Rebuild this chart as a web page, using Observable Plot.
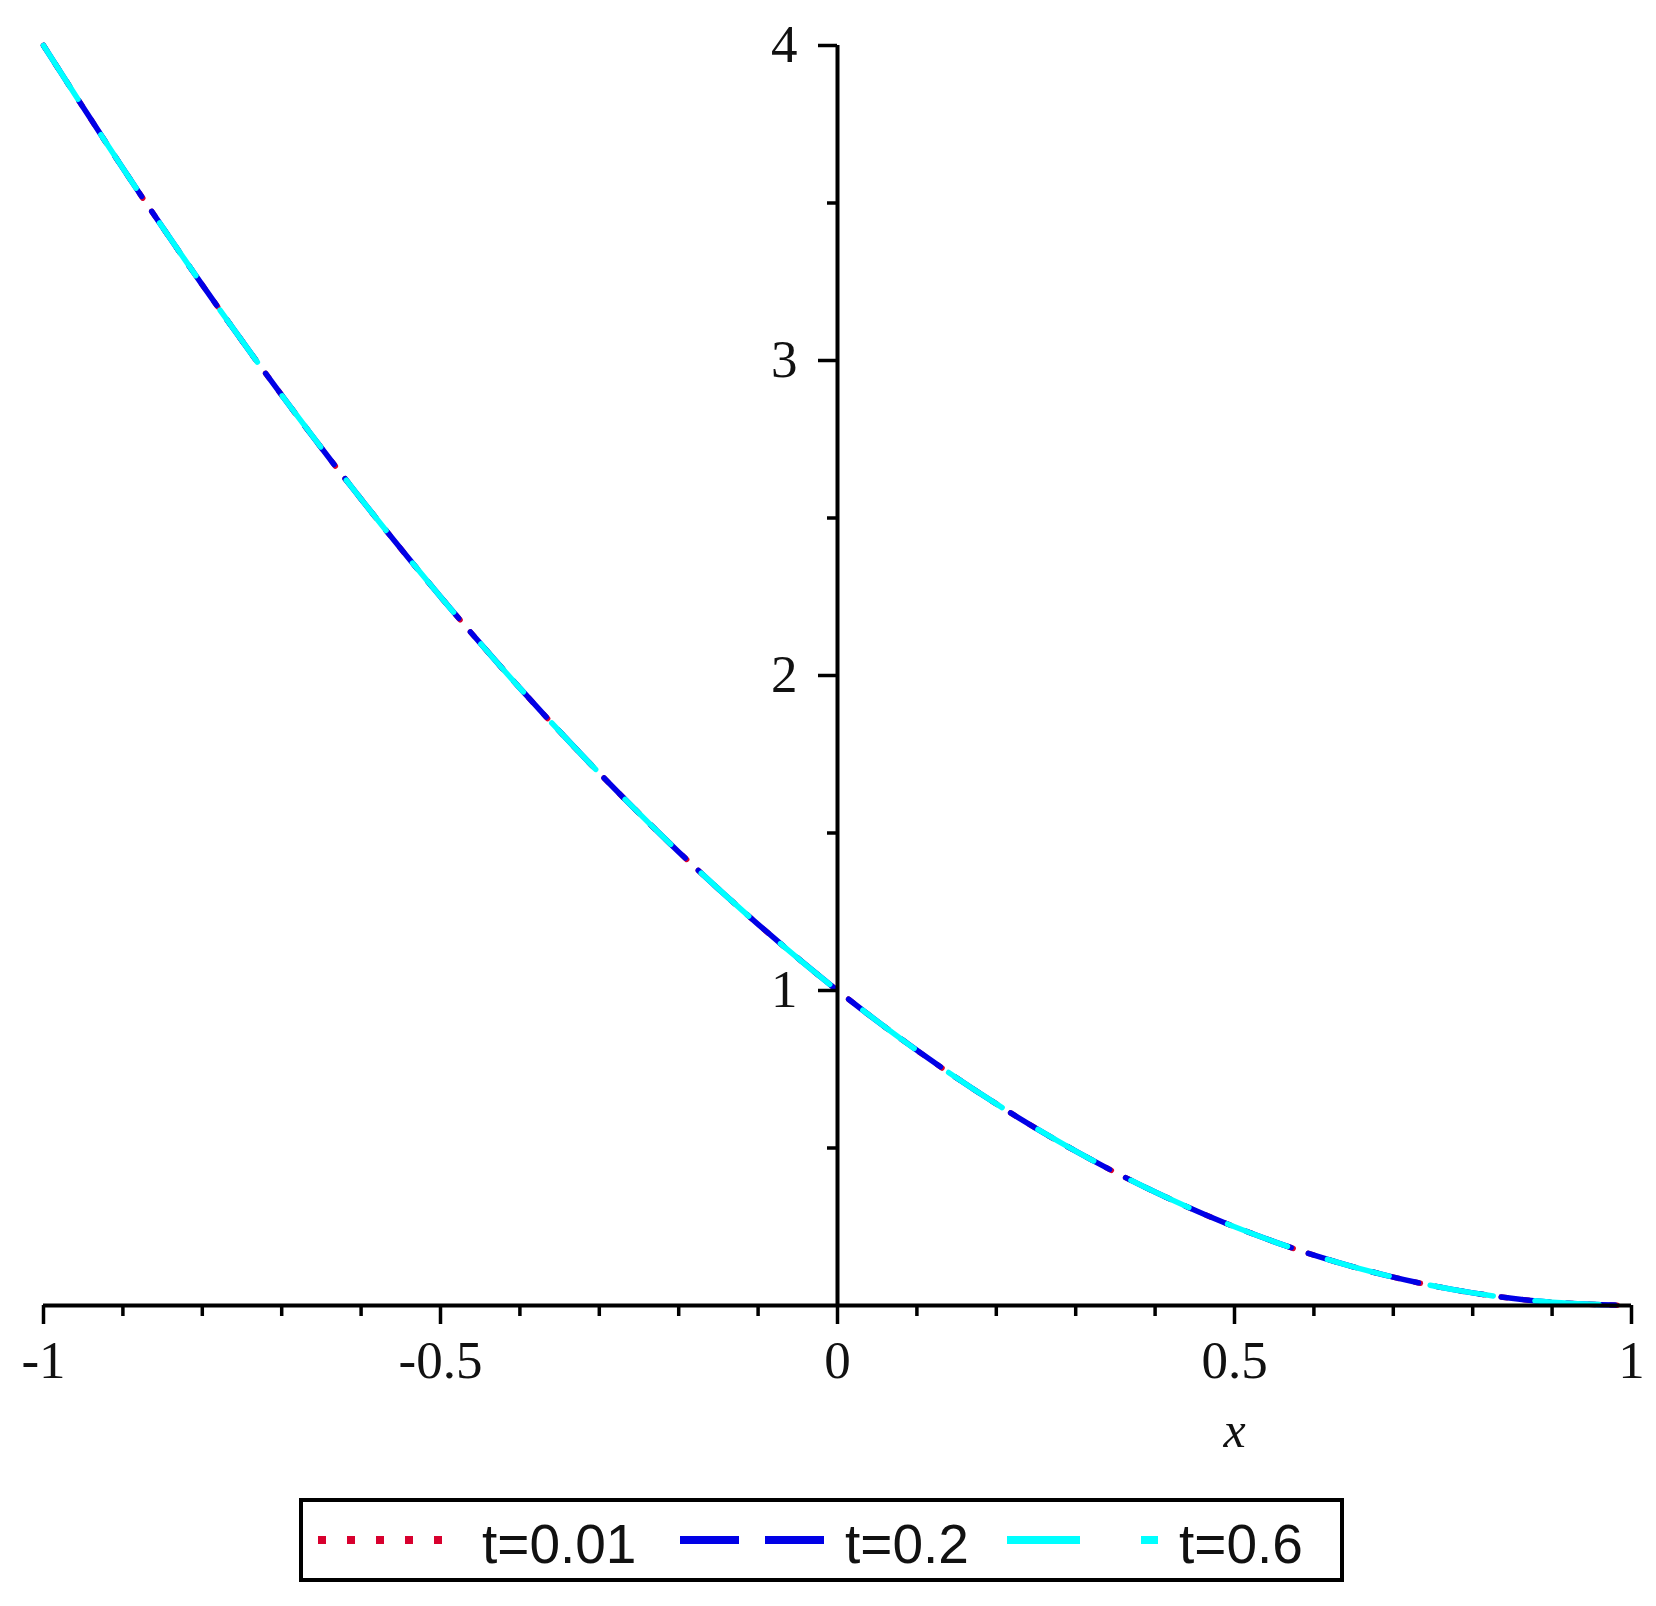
<!DOCTYPE html>
<html><head><meta charset="utf-8">
<script src="https://cdn.jsdelivr.net/npm/d3@7"></script>
<script src="https://cdn.jsdelivr.net/npm/@observablehq/plot@0.6"></script>
<style>
body{margin:0;background:#fff;}
#fig{position:relative;width:1656px;height:1606px;background:#fff;overflow:hidden;}
#legend{position:absolute;left:299px;top:1498px;}
</style></head><body><div id="fig"></div>
<script>
// Data
const xValues = [-1,-0.9,-0.8,-0.7,-0.6,-0.5,-0.4,-0.3,-0.2,-0.1,0,0.1,0.2,0.3,0.4,0.5,0.6,0.7,0.8,0.9,1];
const yT001 = [4,3.61,3.24,2.89,2.56,2.25,1.96,1.69,1.44,1.21,1,0.81,0.64,0.49,0.36,0.25,0.16,0.09,0.04,0.01,0];
const yT02  = [4,3.61,3.24,2.89,2.56,2.25,1.96,1.69,1.44,1.21,1,0.81,0.64,0.49,0.36,0.25,0.16,0.09,0.04,0.01,0];
const yT06  = [4,3.61,3.24,2.89,2.56,2.25,1.96,1.69,1.44,1.21,1,0.81,0.64,0.49,0.36,0.25,0.16,0.09,0.04,0.01,0];
const seriesNames = ["t=0.01","t=0.2","t=0.6"];
const seriesColors = ["#d8002e","#0000e6","#00ffff"];

const xMajorTicks = [-1,-0.5,0,0.5,1];
const xTickLabels = ["-1","-0.5","0","0.5","1"];
const xMinorTicks = [-0.9,-0.8,-0.7,-0.6,-0.4,-0.3,-0.2,-0.1,0.1,0.2,0.3,0.4,0.6,0.7,0.8,0.9];
const yMajorTicks = [1,2,3,4];
const yTickLabels = ["1","2","3","4"];
const yMinorTicks = [0.5,1.5,2.5,3.5];
const xLabel = "x";

const rows = (ys, name) => xValues.map((x, i) => ({x, y: ys[i], series: name}));
const d001 = rows(yT001, seriesNames[0]);
const d02 = rows(yT02, seriesNames[1]);
const d06 = rows(yT06, seriesNames[2]);

const serif = "'Liberation Serif','Times New Roman',Times,serif";
const axisW = 4;

const chart = Plot.plot({
  width: 1656, height: 1480,
  marginLeft: 43, marginRight: 25, marginTop: 45, marginBottom: 175,
  x: {domain: [-1, 1], axis: null},
  y: {domain: [0, 4], axis: null},
  style: {background: "white", overflow: "visible"},
  marks: [
    Plot.line(d001, {x: "x", y: "y", stroke: seriesColors[0], strokeWidth: 5.5, strokeDasharray: "6,16", curve: "catmull-rom"}),
    Plot.line(d02, {x: "x", y: "y", stroke: seriesColors[1], strokeWidth: 5.5, strokeDasharray: "48,18", curve: "catmull-rom"}),
    Plot.line(d06, {x: "x", y: "y", stroke: seriesColors[2], strokeWidth: 5.5, strokeDasharray: "64,42", curve: "catmull-rom"}),
    Plot.ruleY([0], {stroke: "black", strokeWidth: axisW}),
    Plot.ruleX([0], {stroke: "black", strokeWidth: axisW}),
    Plot.ruleX(xMinorTicks, {x: d => d, y1: () => 0, y2: () => 0, insetBottom: -11, stroke: "black", strokeWidth: 3.5}),
    Plot.ruleX(xMajorTicks, {x: d => d, y1: () => 0, y2: () => 0, insetBottom: -19, stroke: "black", strokeWidth: 3.5}),
    Plot.ruleY(yMinorTicks, {y: d => d, x1: () => 0, x2: () => 0, insetLeft: -10, stroke: "black", strokeWidth: 3.5}),
    Plot.ruleY(yMajorTicks, {y: d => d, x1: () => 0, x2: () => 0, insetLeft: -19, stroke: "black", strokeWidth: 3.5}),
    Plot.text(xMajorTicks, {x: d => d, y: () => 0, text: (d, i) => xTickLabels[i], dy: 35, lineAnchor: "top", fontSize: 53, fontFamily: serif, fill: "#111"}),
    Plot.text(yMajorTicks, {x: () => 0, y: d => d, text: (d, i) => yTickLabels[i], dx: -40, textAnchor: "end", fontSize: 53, fontFamily: serif, fill: "#111"}),
    Plot.text([xLabel], {x: () => 0.5, y: () => 0, text: d => d, dy: 125, fontSize: 50, fontStyle: "italic", fontFamily: serif, fill: "#111"})
  ]
});
const fig = document.getElementById("fig");
fig.appendChild(chart);

// Legend below the SVG
const lw = 1045, lh = 84, ly = 42;
const legend = d3.create("svg").attr("id", "legend").attr("width", lw).attr("height", lh);
legend.append("rect").attr("x", 2).attr("y", 2).attr("width", lw - 4).attr("height", lh - 4)
  .attr("fill", "white").attr("stroke", "black").attr("stroke-width", 4);
const legendItems = [
  {name: seriesNames[0], color: seriesColors[0], x1: 19, x2: 146, dash: "8,21", tx: 183},
  {name: seriesNames[1], color: seriesColors[1], x1: 381, x2: 525, dash: "59,26", tx: 546},
  {name: seriesNames[2], color: seriesColors[2], x1: 708, x2: 860, dash: "73,61,17", tx: 880}
];
for (const it of legendItems) {
  legend.append("line").attr("x1", it.x1).attr("x2", it.x2).attr("y1", ly).attr("y2", ly)
    .attr("stroke", it.color).attr("stroke-width", 8).attr("stroke-dasharray", it.dash);
  legend.append("text").attr("x", it.tx).attr("y", 65).text(it.name)
    .attr("font-family", "'Liberation Sans',Arial,sans-serif").attr("font-size", 55).attr("fill", "#111");
}
fig.appendChild(legend.node());
</script>
</body></html>
